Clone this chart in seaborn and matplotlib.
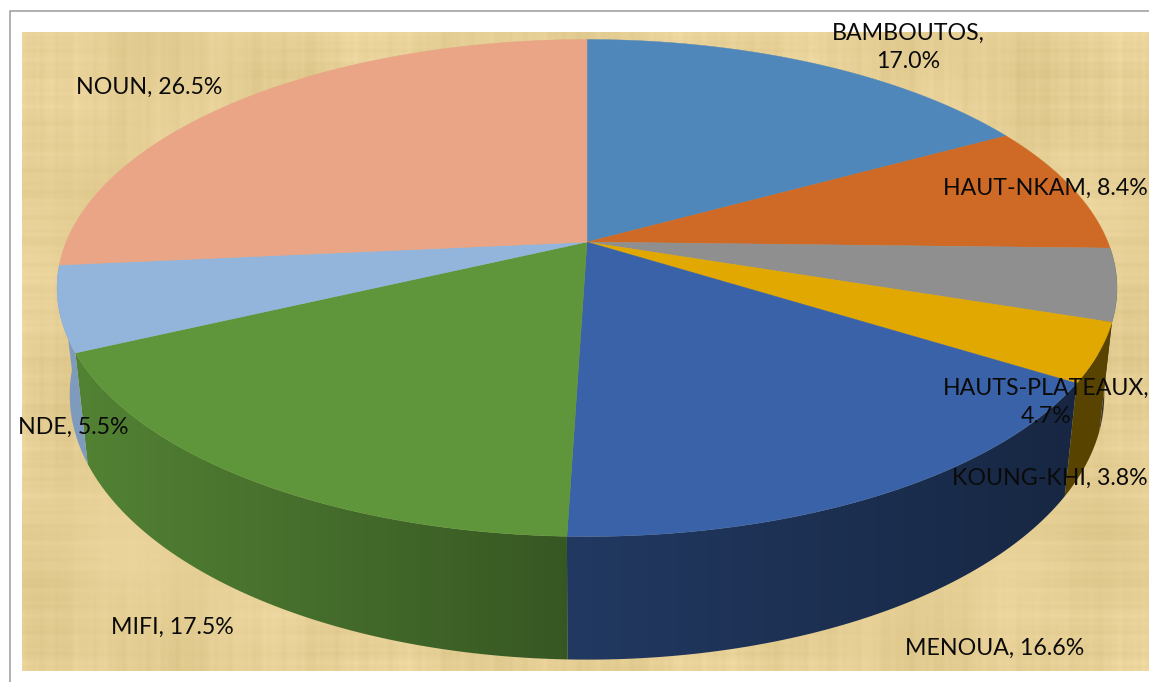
import numpy as np
import matplotlib
matplotlib.use('Agg')
import matplotlib.pyplot as plt
from matplotlib.patches import Polygon
import seaborn as sns

# --- Chart data ---
departments = ['BAMBOUTOS', 'HAUT-NKAM', 'HAUTS-PLATEAUX', 'KOUNG-KHI',
               'MENOUA', 'MIFI', 'NDE', 'NOUN']
shares = [17.0, 8.4, 4.7, 3.8, 16.6, 17.5, 5.5, 26.5]
slice_colors = ['#4F87BA', '#CE6A26', '#8F8F8F', '#E0A800',
                '#3A62A8', '#5F963C', '#93B5DC', '#E9A585']

# label anchors in image pixels (x, y, ha)
label_anchors = [(908, 47, 'center'), (1148, 188, 'right'), (1046, 402, 'center'),
                 (1148, 478, 'right'), (905, 648, 'left'), (111, 627, 'left'),
                 (18, 427, 'left'), (76, 87, 'left')]

# --- Geometry of the tilted disc, in image pixels ---
W, H = 1149, 682
CX, CY, RX, RY = 587.0, 288.0, 530.0, 248.5   # top ellipse
TILT = 0.185                                  # perspective shift of the pie centre
BOT_SX, BOT_Y_A, BOT_Y_B = 0.976, 1.066, 87.7 # top rim -> bottom rim


def rim_point(theta, radius=1.0):
    """Project a point of the flat disc (clockwise from 12 o'clock) onto the top ellipse."""
    u = radius * np.sin(theta)
    v = radius * np.cos(theta)
    den = 1 + TILT * v
    x = u * np.sqrt(1 - TILT ** 2) / den
    y = (v + TILT) / den
    return CX + RX * x, CY - RY * y


def bottom_point(x, y):
    return CX + (x - CX) * BOT_SX, BOT_Y_A * y + BOT_Y_B


def wall_shade(x):
    """Brightness of the side wall across the picture."""
    return np.interp(x, [90, 568, 1070], [0.86, 0.58, 0.40])


def parchment(width, height):
    """Woven paper look, built from crossing sine bands."""
    xs = np.arange(width)[None, :]
    ys = np.arange(height)[:, None]
    patch_a = 0.6 + 0.4 * np.sin(0.021 * ys + 0.4)
    patch_b = 0.6 + 0.4 * np.sin(0.017 * xs + 2.1)
    weave = np.zeros((height, width))
    for f, a in [(0.83, 1.0), (0.47, 1.3), (0.23, 1.6), (0.097, 1.4)]:
        weave += a * np.sin(f * xs + 1.3) * patch_a + a * np.sin(1.13 * f * ys + 0.6) * patch_b
    weave += 5.0 * np.sin(0.013 * xs + 0.019 * ys) * np.sin(0.029 * xs - 0.011 * ys + 1.0)
    base = np.array([230, 207, 149], dtype=float)
    tint = np.array([1.0, 1.05, 1.35])
    img = base[None, None, :] + weave[:, :, None] * tint[None, None, :]
    return np.clip(img, 0, 255).astype(np.uint8)


sns.set_theme(style='white')
plt.rcParams['font.family'] = ['Lato', 'DejaVu Sans']
palette = sns.color_palette(slice_colors)

fig = plt.figure(figsize=(W / 100, H / 100), dpi=100, facecolor='white')
ax = fig.add_axes([0, 0, 1, 1])
ax.imshow(parchment(W - 22, 671 - 32), extent=(22, W, 671, 32), aspect='auto',
          interpolation='bilinear', zorder=0)

# outer frame of the chart
ax.plot([9.5, 9.5, W], [H, 10.5, 10.5], color='#A3A3A3', lw=1.2, zorder=1)

# --- slice angles from the values ---
fractions = np.array(shares) / np.sum(shares)
edges = np.concatenate([[0], np.cumsum(fractions)]) * 2 * np.pi

# --- side wall: one clipped gradient per slice, only slices facing the front ---
pixel_x = np.arange(W) + 0.5
for i, color in enumerate(palette):
    if np.cos((edges[i] + edges[i + 1]) / 2) > 0:
        continue
    start = max(edges[i], np.pi / 2)
    stop = min(edges[i + 1], 3 * np.pi / 2)
    angles = np.linspace(start, stop, 200)
    top_x, top_y = rim_point(angles)
    bot_x, bot_y = bottom_point(top_x, top_y)
    outline = np.column_stack([np.r_[top_x, bot_x[::-1]], np.r_[top_y, bot_y[::-1]]])
    gradient = wall_shade(pixel_x)[None, :, None] * np.array(color)[None, None, :]
    im = ax.imshow(gradient, extent=(0, W, H, 0), aspect='auto', zorder=2 + i * 0.01)
    im.set_clip_path(Polygon(outline, closed=True, transform=ax.transData))

ax.set_xlim(0, W)
ax.set_ylim(H, 0)
ax.axis('off')

# --- top face ---
for i, color in enumerate(palette):
    angles = np.linspace(edges[i], edges[i + 1], 200)
    px, py = rim_point(angles)
    cx0, cy0 = rim_point(0.0, 0.0)
    ax.fill(np.r_[cx0, px], np.r_[cy0, py], color=color, lw=0.3, zorder=3)

# --- data labels ---
for i, name in enumerate(departments):
    x, y, ha = label_anchors[i]
    sep = '\n' if name in ('BAMBOUTOS', 'HAUTS-PLATEAUX') else ' '
    text = f'{name},{sep}{shares[i]:.1f}%'
    ax.text(x, y, text, ha=ha, va='center', fontsize=16.7, color='#0A0A0A',
            linespacing=1.42, zorder=5, clip_on=True)

fig.savefig('out.png', dpi=100)
